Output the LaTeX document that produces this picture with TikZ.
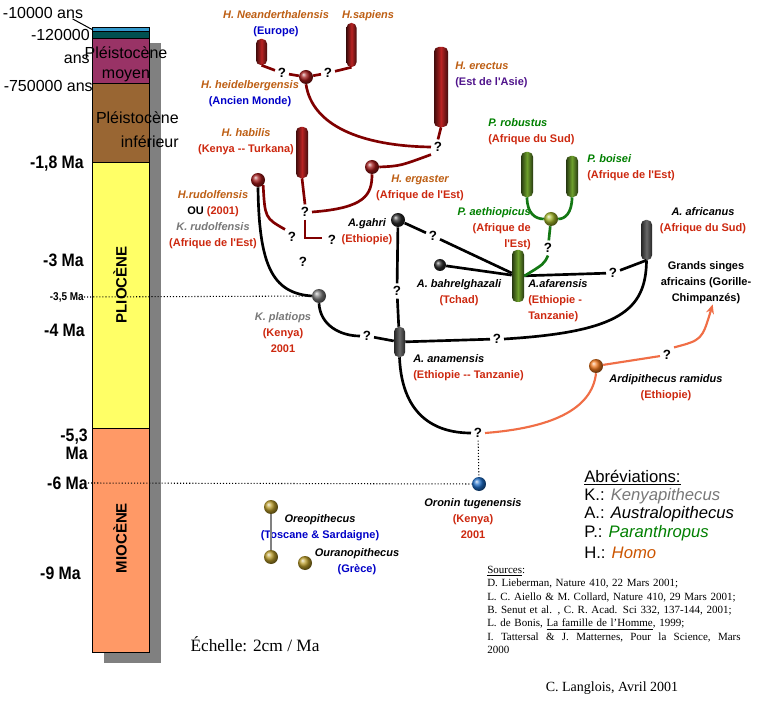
\documentclass[tikz,border=0pt]{standalone}
\usepackage{fontspec}
\setmainfont{Liberation Serif}
\newfontfamily\ar{Liberation Sans}
\newfontfamily\arn[FakeStretch=0.88]{Liberation Sans}
\usetikzlibrary{arrows.meta}
\definecolor{homo}{RGB}{190,95,20}
\definecolor{homoLeg}{RGB}{204,85,0}
\definecolor{cRed}{RGB}{205,40,15}
\definecolor{cBlue}{RGB}{0,0,200}
\definecolor{cPurple}{RGB}{80,20,140}
\definecolor{cGreen}{RGB}{0,128,0}
\definecolor{cGray}{RGB}{120,120,120}
\definecolor{cHl}{RGB}{128,0,0}
\definecolor{cGl}{RGB}{20,120,20}
\definecolor{cOl}{RGB}{240,110,70}
\definecolor{cylH}{RGB}{185,35,35}
\definecolor{cylG}{RGB}{110,160,45}
\definecolor{cylK}{RGB}{105,105,105}
\definecolor{balH}{RGB}{160,25,25}
\definecolor{balK}{RGB}{40,40,40}
\definecolor{balG}{RGB}{160,180,40}
\definecolor{balP}{RGB}{120,120,120}
\definecolor{balO}{RGB}{240,120,30}
\definecolor{balB}{RGB}{30,110,200}
\definecolor{balY}{RGB}{185,155,40}
\definecolor{tBlue}{RGB}{51,153,204}
\definecolor{tTeal}{RGB}{0,80,80}
\definecolor{tMag}{RGB}{153,51,102}
\definecolor{tBrown}{RGB}{153,102,51}
\definecolor{tYel}{RGB}{255,255,102}
\definecolor{tOra}{RGB}{255,153,102}
\definecolor{tShad}{RGB}{128,128,128}
\begin{document}
\begin{tikzpicture}[x=0.75pt,y=-0.75pt,
  lab/.style={inner sep=0pt, align=center, font=\ar\bfseries\fontsize{8.25}{12}\selectfont},
  qm/.style={inner sep=2pt, font=\ar\bfseries\fontsize{10}{11}\selectfont},
  cyl/.style={rounded corners=3.5pt, inner sep=0pt, left color=#1!35!black, right color=#1!35!black, middle color=#1},
  ball/.style={circle, inner sep=0pt, minimum size=10.5pt, ball color=#1},
  tl/.style={inner sep=0pt, font=\ar\fontsize{12}{14}\selectfont},
  tm/.style={inner sep=0pt, font=\arn\bfseries\fontsize{13.5}{15}\selectfont},
  hl/.style={draw=cHl, line width=2pt},
  kl/.style={draw=black, line width=2pt},
  gl/.style={draw=cGl, line width=2pt},
  ol/.style={draw=cOl, line width=1.6pt},
  dl/.style={draw=black, line width=0.8pt, dash pattern=on 0.8pt off 1.5pt},
  leg/.style={inner sep=0pt, anchor=west, font=\ar\fontsize{12.5}{14}\selectfont}]
\useasboundingbox (0,0) rectangle (757,702);
\fill[white] (0,0) rectangle (757,702);
% timeline column
\fill[tShad] (104,43) rectangle (161,663);
\begin{scope}[line width=0.75pt]
\draw[fill=tBlue] (92,28) rectangle (149,31.7);
\draw[fill=tTeal] (92,31.7) rectangle (149,39);
\draw[fill=tMag] (92,39) rectangle (149,84);
\draw[fill=tBrown] (92,84) rectangle (149,163);
\draw[fill=tYel] (92,163) rectangle (149,428);
\draw[fill=tOra] (92,428) rectangle (149,652);
\end{scope}
\node[tl] (l10k) at (43,13) {-10000 ans};
\coordinate (top10k) at (93,30);
\draw[line width=0.75pt] ([xshift=-8pt]l10k.south east) -- (top10k);
\node[tl, anchor=east] (l120) at (90,35) {-120000};
\node[tl, anchor=east] (l120b) at (90,59) {ans};
\node[tl, anchor=east] (l750) at (93,86) {-750000 ans};
\node[tl] (pm1) at (126,53) {Pléistocène};
\node[tl] (pm2) at (126,76) {moyen};
\node[tl, anchor=east] (pi1) at (179,118) {Pléistocène};
\node[tl, anchor=east] (pi2) at (179,142) {inférieur};
\node[tm, anchor=east] (m18) at (84,164) {-1,8 Ma};
\node[tm, anchor=east] (m3) at (84,260) {-3 Ma};
\node[tm, anchor=east, font=\arn\bfseries\fontsize{8.5}{9}\selectfont] (m35) at (84,297) {-3,5 Ma};
\node[tm, anchor=east] (m4) at (85,330) {-4 Ma};
\node[tm, anchor=east] (m53) at (88,437) {-5,3};
\node[tm, anchor=east] (m53b) at (88,453) {Ma};
\node[tm, anchor=east] (m6) at (88,483) {-6 Ma};
\node[tm, anchor=east] (m9) at (81,573) {-9 Ma};
\node[tm, rotate=90, font=\ar\bfseries\fontsize{11.25}{12}\selectfont] (plio) at (120,285) {PLIOCÈNE};
\node[tm, rotate=90, font=\ar\bfseries\fontsize{11.25}{12}\selectfont] (mio) at (120,538) {MIOCÈNE};
% cylinders
\node[cyl=cylH, minimum width=8.25pt, minimum height=19.5pt] (nean) at (261.5,52) {};
\node[cyl=cylH, minimum width=7.5pt, minimum height=33pt] (sap) at (351.5,45) {};
\node[cyl=cylH, minimum width=10.5pt, minimum height=60pt] (erec) at (441,87) {};
\node[cyl=cylH, minimum width=9pt, minimum height=38.25pt] (hab) at (302,152.5) {};
\node[cyl=cylG, minimum width=9pt, minimum height=33.75pt] (rob) at (527,174.5) {};
\node[cyl=cylG, minimum width=9pt, minimum height=30.75pt] (boi) at (572,176.5) {};
\node[cyl=cylG, minimum width=9pt, minimum height=39pt] (afar) at (518,276) {};
\node[cyl=cylK, minimum width=8.25pt, minimum height=30pt] (afric) at (646.5,240) {};
\node[cyl=cylK, minimum width=8.25pt, minimum height=22.5pt] (anam) at (399.5,342) {};
% balls
\node[ball=balH] (heid) at (306,77) {};
\node[ball=balH] (rud) at (258,180) {};
\node[ball=balH] (erg) at (372,167) {};
\node[ball=balK] (gahri) at (398,220) {};
\node[ball=balK, minimum size=9pt] (bahr) at (440,265) {};
\node[ball=balG] (aeth) at (551,219) {};
\node[ball=balP] (plat) at (319,296) {};
\node[ball=balO] (ardi) at (596,366) {};
\node[ball=balB] (oron) at (479,484) {};
\node[ball=balY] (oreo1) at (271,507) {};
\node[ball=balY] (oreo2) at (271,557) {};
\node[ball=balY] (oura) at (305,563) {};
% question marks
\node[qm] (q1) at (282,73) {?};
\node[qm] (q2) at (328,73) {?};
\node[qm] (q3) at (438,147) {?};
\node[qm] (q4) at (305,212) {?};
\node[qm] (q5) at (292,237) {?};
\node[qm] (q6) at (332,240) {?};
\node[qm] (q7) at (303,262) {?};
\node[qm] (q8) at (433,236) {?};
\node[qm] (q9) at (397,291) {?};
\node[qm] (q10) at (548,248) {?};
\node[qm] (q11) at (613,273) {?};
\node[qm] (q12) at (367,336) {?};
\node[qm] (q13) at (497,339) {?};
\node[qm] (q14) at (478,433) {?};
\node[qm] (q15) at (667,355) {?};
% labels
\node[lab] (neanL) at (276,23.5) {{\itshape\color{homo}H. Neanderthalensis}\\{\color{cBlue}(Europe)}};
\node[lab] (sapL) at (368,16) {\itshape\color{homo}H.sapiens};
\node[lab] (heidL) at (250,94) {{\itshape\color{homo}H. heidelbergensis}\\{\color{cBlue}(Ancien Monde)}};
\node[lab, align=left, anchor=west] (erecL) at (455,75) {{\itshape\color{homo}H. erectus}\\{\color{cPurple}(Est de l'Asie)}};
\node[lab] (habL) at (246,141.5) {{\itshape\color{homo}H. habilis}\\{\color{cRed}(Kenya -- Turkana)}};
\node[lab] (rudL) at (213,220) {{\itshape\color{homo}H.rudolfensis}\\OU {\color{cRed}(2001)}\\{\itshape\color{cGray}K. rudolfensis}\\{\color{cRed}(Afrique de l'Est)}};
\node[lab] (ergL) at (420,188) {{\itshape\color{homo}H. ergaster}\\{\color{cRed}(Afrique de l'Est)}};
\node[lab] (gahriL) at (367,232) {{\itshape A.gahri}\\{\color{cRed}(Ethiopie)}};
\node[lab, align=left, anchor=west] (robL) at (488,132) {{\itshape\color{cGreen}P. robustus}\\{\color{cRed}(Afrique du Sud)}};
\node[lab, align=left, anchor=west] (boiL) at (587,168) {{\itshape\color{cGreen}P. boisei}\\{\color{cRed}(Afrique de l'Est)}};
\node[lab, align=right, anchor=east] (aethL) at (531,229) {{\itshape\color{cGreen}P. aethiopicus}\\{\color{cRed}(Afrique de}\\{\color{cRed}l'Est)}};
\node[lab, align=left, anchor=west] (afarL) at (528,301) {{\itshape A.afarensis}\\{\color{cRed}(Ethiopie -}\\{\color{cRed}Tanzanie)}};
\node[lab] (bahrL) at (459,293) {{\itshape A. bahrelghazali}\\{\color{cRed}(Tchad)}};
\node[lab] (africL) at (703,220.5) {{\itshape A. africanus}\\{\color{cRed}(Afrique du Sud)}};
\node[lab] (gs) at (706,283) {Grands singes\\africains (Gorille-\\Chimpanzés)};
\node[lab] (platL) at (283,332.5) {{\itshape\color{cGray}K. platiops}\\{\color{cRed}(Kenya)}\\{\color{cRed}2001}};
\node[lab, align=left, anchor=west] (anamL) at (413,367.5) {{\itshape A. anamensis}\\{\color{cRed}(Ethiopie -- Tanzanie)}};
\node[lab] (ardiL) at (666,388) {{\itshape Ardipithecus ramidus}\\{\color{cRed}(Ethiopie)}};
\node[lab] (oronL) at (473,519) {{\itshape Oronin tugenensis}\\{\color{cRed}(Kenya)}\\{\color{cRed}2001}};
\node[lab] (oreoL) at (320,528) {{\itshape Oreopithecus}\\{\color{cBlue}(Toscane \& Sardaigne)}};
\node[lab] (ouraL) at (357,562) {{\itshape Ouranopithecus}\\{\color{cBlue}(Grèce)}};
% Homo connectors
\draw[hl] (nean.south) -- (q1);
\draw[hl] (q1) -- (heid);
\draw[hl] (heid) -- (q2);
\draw[hl] (q2) -- (sap.south);
\draw[hl] (heid.south) .. controls (312,125) and (360,146) .. (q3.west);
\draw[hl] (erec.south) -- (q3.north);
\draw[hl] (erg.east) .. controls (400,166) .. (q3.south west);
\draw[hl] (hab.south) -- (q4.north);
\draw[hl] (q4.east) .. controls (365,208) and (372,195) .. (erg.south);
\coordinate (hT) at (322,238);
\draw[hl] (q4.south) |- (hT);
\draw[hl] (rud.south east) .. controls (265,218) .. (q5.north west);
% black connectors
\draw[kl] (rud.south) .. controls (259,265) and (272,293) .. (plat.west);
\draw[kl] (gahri) -- (q9);
\draw[kl] (q9) -- (anam);
\draw[kl] (gahri) -- (q8);
\draw[kl] (q8) -- (afar);
\draw[kl] (bahr) -- (afar);
\draw[kl] (afar) -- (q11);
\draw[kl] (q11) -- (afric.south);
\draw[kl] (afric.south) .. controls (646,310) and (620,332) .. (q13.east);
\draw[kl] (plat.south) .. controls (320,325) and (340,336) .. (q12.west);
\draw[kl] (q12) -- (anam);
\draw[kl] (anam) -- (q13);
\draw[kl] (anam.south) .. controls (402,420) and (440,433) .. (q14.west);
% green connectors
\draw[gl] (rob.south) .. controls (527,213) and (535,219) .. (aeth.west);
\draw[gl] (boi.south) .. controls (572,213) and (565,219) .. (aeth.east);
\draw[gl] (aeth) -- (q10);
\draw[gl] (q10.south) .. controls (544,264) .. (afar.east);
% orange connectors
\draw[ol] (q14.east) .. controls (550,428) and (592,410) .. (ardi.south);
\draw[ol] (ardi) -- (q15);
\draw[ol, -{Stealth[length=7pt,width=6pt]}] (q15.north east) .. controls (702,340) .. ([xshift=5pt]gs.south);
% dotted
\draw[dl] (m35.east) -- (plat);
\draw[dl] (m6.east) -- (oron);
\draw[dl] (q14) -- (oron);
\draw[draw=gray, line width=1.5pt] (oreo1) -- (oreo2);
% legend
\node[leg] (abr) at (584,478) {\underline{Abréviations:}};
\node[leg] (abK) at (584,496) {K.: {\itshape\color{cGray}Kenyapithecus}};
\node[leg] (abA) at (584,514) {A.: {\itshape Australopithecus}};
\node[leg] (abP) at (584,533) {P.: {\itshape\color{cGreen}Paranthropus}};
\node[leg] (abH) at (584,553) {H.: {\itshape\color{homoLeg}Homo}};
\node[anchor=north west, inner sep=0pt, text width=190pt, align=left, font=\fontsize{8.25}{10}\selectfont] (src) at (487,566) {\underline{Sources}:\\ D. Lieberman, Nature 410, 22 Mars 2001;\\ L. C. Aiello \& M. Collard, Nature 410, 29 Mars 2001;\\ B. Senut et al. , C. R. Acad. Sci 332, 137-144, 2001;\\ L. de Bonis, \underline{La famille de l'Homme}, 1999;\\ \leavevmode\hbox to 190pt{I.\hfill Tattersal\hfill \&\hfill J.\hfill Matternes,\hfill Pour\hfill la\hfill Science,\hfill Mars}\\ 2000};
\node[inner sep=0pt, font=\fontsize{13}{15}\selectfont] (ech) at (255,644) {Échelle: 2cm / Ma};
\node[inner sep=0pt, font=\fontsize{10.5}{12}\selectfont] (sig) at (612,688) {C. Langlois, Avril 2001};
\end{tikzpicture}
\end{document}
